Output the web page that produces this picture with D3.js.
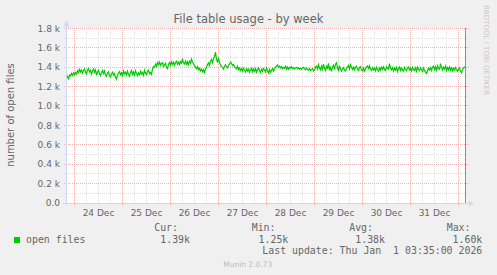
<!DOCTYPE html>
<html>
<head>
<meta charset="utf-8">
<script src="https://cdn.jsdelivr.net/npm/d3@7"></script>
<style>
body { margin: 0; background: #f0f0f0; }
svg { display: block; }
text { font-family: "DejaVu Sans", sans-serif; fill: #666; }
.mono { font-family: "DejaVu Sans Mono", monospace; white-space: pre; }
</style>
</head>
<body>
<svg id="chart" width="497" height="275"></svg>
<script>

// open files, one sample every 30 minutes
var openFiles = [
	1325, 1295, 1280, 1320, 1310, 1335, 1315, 1340, 1320, 1345,
	1330, 1362, 1345, 1378, 1350, 1370, 1338, 1365, 1382, 1348,
	1330, 1372, 1385, 1350, 1368, 1328, 1360, 1380, 1345, 1372,
	1318, 1350, 1368, 1330, 1315, 1345, 1365, 1335, 1360, 1320,
	1305, 1338, 1352, 1312, 1298, 1330, 1348, 1318, 1335, 1295,
	1275, 1318, 1340, 1355, 1322, 1342, 1310, 1360, 1330, 1348,
	1320, 1358, 1325, 1305, 1345, 1365, 1325, 1350, 1318, 1362,
	1335, 1312, 1340, 1322, 1358, 1328, 1345, 1315, 1368, 1338,
	1322, 1355, 1370, 1332, 1345, 1325, 1378, 1405,
	1400, 1432, 1410, 1448, 1425, 1452, 1418, 1438, 1445, 1405,
	1425, 1440, 1395, 1385, 1428, 1448, 1420, 1455, 1430, 1450,
	1420, 1448, 1460, 1428, 1452, 1425, 1458, 1440, 1478, 1445,
	1432, 1462, 1430, 1455, 1425, 1460, 1440, 1482, 1450, 1435,
	1415, 1398, 1382, 1405, 1372, 1388, 1362, 1380, 1352, 1375,
	1345, 1382, 1400, 1428, 1445, 1418, 1462, 1478, 1445, 1492,
	1510, 1555, 1478, 1455, 1488, 1445, 1425, 1405, 1398, 1380,
	1410, 1425, 1402, 1392, 1418, 1430, 1452, 1440, 1418, 1428,
	1405, 1392, 1382, 1408, 1375, 1390, 1365, 1385, 1360, 1388,
	1365, 1350, 1382, 1360, 1378, 1345, 1372, 1388, 1352, 1380,
	1358, 1385, 1348, 1372, 1392, 1362, 1345, 1378, 1358, 1385,
	1370, 1350, 1392, 1362, 1338, 1375, 1345, 1368, 1385, 1358,
	1380, 1398, 1415, 1422, 1400, 1410, 1392, 1405, 1385, 1398,
	1388, 1408, 1380, 1402, 1378, 1398, 1390, 1405, 1385, 1395,
	1382, 1392, 1398, 1385, 1395, 1380, 1388, 1378, 1392, 1398,
	1382, 1372, 1392, 1378, 1370, 1385, 1365, 1372, 1382, 1360,
	1372, 1398, 1412, 1380, 1425, 1390, 1372, 1410, 1378, 1430,
	1390, 1365, 1418, 1382, 1438, 1368, 1405, 1355, 1400, 1420,
	1375, 1430, 1445, 1390, 1365, 1415, 1378, 1358, 1382, 1395,
	1368, 1360, 1390, 1402, 1418, 1382, 1425, 1398, 1375, 1400,
	1372, 1398, 1410, 1380, 1365, 1395, 1405, 1368, 1362, 1390,
	1358, 1385, 1400, 1412, 1385, 1415, 1378, 1365, 1395, 1372,
	1390, 1362, 1398, 1375, 1358, 1392, 1370, 1398, 1378, 1402,
	1375, 1365, 1405, 1385, 1380, 1435, 1390, 1372, 1395, 1360,
	1390, 1368, 1398, 1355, 1385, 1400, 1365, 1392, 1372, 1358,
	1398, 1375, 1362, 1392, 1400, 1368, 1390, 1360, 1398, 1375,
	1365, 1392, 1358, 1400, 1375, 1362, 1395, 1372, 1355, 1390,
	1365, 1348, 1335, 1362, 1390, 1370, 1395, 1365, 1400, 1410,
	1375, 1402, 1368, 1415, 1385, 1378, 1435, 1395, 1372, 1400,
	1380, 1410, 1365, 1395, 1372, 1400, 1368, 1392, 1360, 1388,
	1370, 1395, 1375, 1358, 1378, 1390, 1355, 1340, 1375, 1392, 1400, 1390
];

var seriesStart = new Date(2025, 11, 23, 20, 0);
var stepMinutes = 30;

var yTicks = [0, 200, 400, 600, 800, 1000, 1200, 1400, 1600, 1800];
var yMinorTicks = [100, 300, 500, 700, 900, 1100, 1300, 1500, 1700];

var legendHeads = ["Cur:", "Min:", "Avg:", "Max:"];
var legendValues = ["1.39k", "1.25k", "1.38k", "1.60k"];
var seriesName = "open files";
var lastUpdate = "Last update: Thu Jan  1 03:35:00 2026";

var svg = d3.select("#chart");

var plot = {left: 66, right: 466, top: 28.3, bottom: 203};

var seriesEnd = d3.timeMinute.offset(seriesStart, openFiles.length * stepMinutes);

var x = d3.scaleTime()
	.domain([seriesStart, seriesEnd])
	.range([plot.left, plot.right]);

var y = d3.scaleLinear()
	.domain([0, 1800])
	.range([plot.bottom, plot.top]);

function px(v)
{
	return Math.floor(v) + 0.5;
}

// canvas
svg.append("rect")
	.attr("x", plot.left)
	.attr("y", Math.floor(plot.top))
	.attr("width", plot.right - plot.left)
	.attr("height", plot.bottom - Math.floor(plot.top))
	.attr("fill", "#ffffff");

var grid = svg.append("g").attr("shape-rendering", "crispEdges");

var minorColor = "#dedede";
var majorColor = "#f2b2b2";

// minor grid, every 6 hours / 100 files
var sixHours = d3.timeHour.every(6).range(seriesStart, seriesEnd).filter(function(d) { return d.getHours() != 0; });

grid.selectAll(".vminor")
	.data(sixHours)
	.enter().append("line")
	.attr("x1", function(d) { return px(x(d)); })
	.attr("x2", function(d) { return px(x(d)); })
	.attr("y1", plot.top)
	.attr("y2", plot.bottom)
	.attr("stroke", minorColor)
	.attr("stroke-dasharray", "1,1");

grid.selectAll(".hminor")
	.data(yMinorTicks)
	.enter().append("line")
	.attr("x1", plot.left - 2)
	.attr("x2", plot.right + 2)
	.attr("y1", function(d) { return px(y(d)); })
	.attr("y2", function(d) { return px(y(d)); })
	.attr("stroke", minorColor)
	.attr("stroke-dasharray", "1,1");

// major grid, midnight / 200 files
var days = d3.timeDay.range(seriesStart, seriesEnd);

grid.selectAll(".vmajor")
	.data(days)
	.enter().append("line")
	.attr("x1", function(d) { return px(x(d)); })
	.attr("x2", function(d) { return px(x(d)); })
	.attr("y1", plot.top)
	.attr("y2", plot.bottom + 3)
	.attr("stroke", majorColor)
	.attr("stroke-dasharray", "1,1");

grid.selectAll(".hmajor")
	.data(yTicks.slice(1))
	.enter().append("line")
	.attr("x1", plot.left - 2)
	.attr("x2", plot.right + 3)
	.attr("y1", function(d) { return px(y(d)); })
	.attr("y2", function(d) { return px(y(d)); })
	.attr("stroke", majorColor)
	.attr("stroke-dasharray", "1,1");

// y labels
svg.selectAll(".ylab")
	.data(yTicks)
	.enter().append("text")
	.attr("x", 60)
	.attr("y", function(d) { return y(d) + 3.3; })
	.attr("text-anchor", "end")
	.style("font-size", "9px")
	.text(function(d) { return d == 0 ? "0.0" : (d / 1000).toFixed(1) + " k"; });

// x labels at noon
var noons = days.map(function(d) { return d3.timeHour.offset(d, 12); })
	.filter(function(d) { return d > seriesStart && d < seriesEnd; });

svg.selectAll(".xlab")
	.data(noons)
	.enter().append("text")
	.attr("x", function(d) { return x(d) + 0.5; })
	.attr("y", 215.5)
	.attr("text-anchor", "middle")
	.style("font-size", "9px")
	.text(d3.timeFormat("%-d %b"));

// series
var line = d3.line()
	.x(function(d, i) { return x(d3.timeMinute.offset(seriesStart, i * stepMinutes)) + 0.5; })
	.y(function(d) { return y(d); });

svg.append("path")
	.datum(openFiles)
	.attr("d", line)
	.attr("fill", "none")
	.attr("stroke", "#00cc00")
	.attr("stroke-width", 1.2);

// axes + arrows
var axisColor = "#cfd6f8";
var axes = svg.append("g").attr("shape-rendering", "crispEdges");

axes.append("line")
	.attr("x1", px(plot.left)).attr("x2", px(plot.left))
	.attr("y1", plot.bottom + 2).attr("y2", 24)
	.attr("stroke", axisColor);

axes.append("line")
	.attr("x1", plot.left - 3).attr("x2", plot.right + 4)
	.attr("y1", px(plot.bottom)).attr("y2", px(plot.bottom))
	.attr("stroke", axisColor);

svg.append("path")
	.attr("d", "M63.5,26.5L66.5,20.5L69.5,26.5Z")
	.attr("fill", axisColor);

svg.append("path")
	.attr("d", "M469,200.5L474,203.5L469,206.5Z")
	.attr("fill", axisColor);

// right edge rule
axes.append("line")
	.attr("x1", plot.right - 0.5).attr("x2", plot.right - 0.5)
	.attr("y1", Math.floor(plot.top)).attr("y2", plot.bottom)
	.attr("stroke", "#909090");

// title and side texts
svg.append("text")
	.attr("x", 248.5)
	.attr("y", 22.5)
	.attr("text-anchor", "middle")
	.style("font-size", "11.5px")
	.text("File table usage - by week");

svg.append("text")
	.attr("transform", "translate(13.5,115) rotate(-90)")
	.attr("text-anchor", "middle")
	.style("font-size", "10px")
	.text("number of open files");

svg.append("text")
	.attr("transform", "translate(484,5) rotate(90)")
	.attr("text-anchor", "start")
	.style("font-size", "7px")
	.style("fill", "#c8c8c8")
	.text("RRDTOOL / TOBI OETIKER");

// legend
var legendHeadX = [178, 275.5, 373, 470.5];
var legendValueX = [190, 288.3, 385, 482.3];

svg.append("rect")
	.attr("x", 14).attr("y", 237)
	.attr("width", 6).attr("height", 6)
	.attr("fill", "#00cc00");

svg.append("text")
	.attr("class", "mono")
	.attr("x", 26).attr("y", 242.8)
	.style("font-size", "9.9px")
	.text(seriesName);

svg.selectAll(".lhead")
	.data(legendHeads)
	.enter().append("text")
	.attr("class", "mono")
	.attr("x", function(d, i) { return legendHeadX[i]; })
	.attr("y", 231.3)
	.attr("text-anchor", "end")
	.style("font-size", "9.9px")
	.text(function(d) { return d; });

svg.selectAll(".lval")
	.data(legendValues)
	.enter().append("text")
	.attr("class", "mono")
	.attr("x", function(d, i) { return legendValueX[i]; })
	.attr("y", 242.8)
	.attr("text-anchor", "end")
	.style("font-size", "9.9px")
	.text(function(d) { return d; });

svg.append("text")
	.attr("class", "mono")
	.attr("x", 482.3).attr("y", 254.4)
	.attr("text-anchor", "end")
	.style("font-size", "9.9px")
	.text(lastUpdate);

svg.append("text")
	.attr("x", 247.7).attr("y", 267)
	.attr("text-anchor", "middle")
	.style("font-size", "7.5px")
	.style("fill", "#bbbbbb")
	.text("Munin 2.0.73");

</script>
</body>
</html>
